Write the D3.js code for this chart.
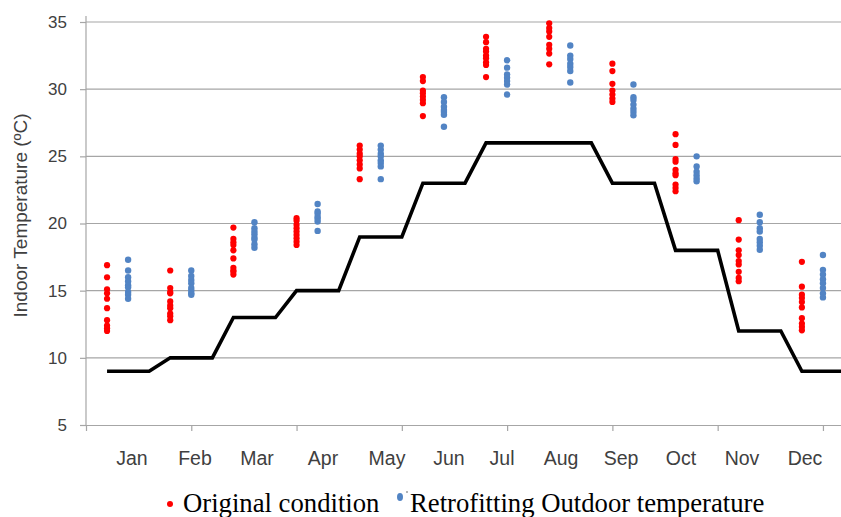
<!DOCTYPE html>
<html>
<head>
<meta charset="utf-8">
<script src="https://cdn.jsdelivr.net/npm/d3@7/dist/d3.min.js"></script>
<style>
  html, body { margin: 0; padding: 0; background: #fff; }
  svg { display: block; }
</style>
</head>
<body>
<svg id="chart" width="841" height="517"></svg>
<script>
// ---- data ----
const months = ["Jan","Feb","Mar","Apr","May","Jun","Jul","Aug","Sep","Oct","Nov","Dec"];
const outdoorTemp = [9, 10, 13, 15, 19, 23, 26, 26, 23, 18, 12, 9];
const originalCondition = [
  [16.9, 16.0, 15.1, 14.8, 14.4, 13.7, 12.8, 12.4, 12.2, 12.0],
  [16.5, 15.2, 14.9, 14.8, 14.2, 13.9, 13.7, 13.3, 13.1, 12.8],
  [19.7, 18.85, 18.6, 18.4, 18.0, 17.4, 16.7, 16.5, 16.4, 16.2],
  [20.4, 20.2, 19.9, 19.65, 19.4, 19.15, 18.9, 18.65, 18.4],
  [25.8, 25.5, 25.2, 25.0, 24.7, 24.4, 24.1, 23.3],
  [30.9, 30.6, 29.9, 29.7, 29.45, 29.2, 28.95, 28.0],
  [33.9, 33.5, 33.0, 32.8, 32.5, 32.3, 32.0, 31.8, 30.9],
  [34.9, 34.55, 34.3, 33.9, 33.3, 33.0, 32.65, 31.85],
  [31.9, 31.35, 30.4, 29.9, 29.6, 29.3, 29.05],
  [26.65, 25.85, 24.8, 24.6, 24.0, 23.75, 23.6, 22.9, 22.65, 22.4],
  [20.25, 18.8, 18.0, 17.65, 17.2, 16.95, 16.4, 15.95, 15.7],
  [17.15, 15.3, 14.7, 14.45, 14.15, 13.75, 12.95, 12.55, 12.3, 12.05]
];
const retrofitting = [
  [17.3, 16.5, 16.0, 15.7, 15.4, 15.25, 14.9, 14.7, 14.4],
  [16.5, 16.1, 15.8, 15.55, 15.2, 15.0, 14.8, 14.7],
  [20.1, 19.65, 19.4, 19.2, 18.95, 18.8, 18.45, 18.2],
  [21.45, 20.9, 20.75, 20.5, 20.35, 20.15, 19.45],
  [25.8, 25.5, 25.2, 25.0, 24.7, 24.5, 24.25, 23.3],
  [29.4, 29.05, 28.7, 28.45, 28.3, 28.1, 27.2],
  [32.15, 31.6, 31.1, 30.85, 30.6, 30.35, 29.6],
  [33.25, 32.5, 32.25, 31.9, 31.65, 31.35, 30.5],
  [30.35, 29.4, 29.2, 28.85, 28.55, 28.3, 28.05],
  [25.0, 24.25, 23.85, 23.6, 23.35, 23.15],
  [20.65, 20.1, 19.65, 19.4, 18.85, 18.6, 18.35, 18.05],
  [17.65, 16.55, 16.2, 15.85, 15.55, 15.2, 14.8, 14.5]
];
const yTicks = [5, 10, 15, 20, 25, 30, 35];
const xTicks = [0, 5, 10, 15, 20, 25, 30, 35];
const legendLabels = ["Original condition", "Retrofitting Outdoor temperature"];

// ---- scales ----
const svg = d3.select("#chart");
const x = d3.scaleLinear().domain([0, 36]).range([86, 844]);
const y = d3.scaleLinear().domain([5, 35]).range([425, 22]);
const monthX = d3.scaleOrdinal().domain(months)
  .range([132, 195, 257, 323, 387, 449, 502, 561, 621, 681, 742, 805]);

const gridColor = "#a6a6a6";
const textColor = "#404040";

// gridlines
svg.append("g").selectAll("line").data(yTicks.filter(d => d > 5)).join("line")
  .attr("x1", x(0)).attr("x2", 841)
  .attr("y1", d => y(d)).attr("y2", d => y(d))
  .attr("stroke", gridColor).attr("stroke-width", 1.2);

// y axis
const yAxis = svg.append("g").attr("transform", `translate(${x(0)},0)`)
  .call(d3.axisLeft(y).tickValues(yTicks).tickSize(6).tickSizeOuter(0).tickPadding(13));
yAxis.select(".domain").remove();
yAxis.selectAll(".tick line").attr("stroke", gridColor).attr("stroke-width", 1.2);
yAxis.selectAll(".tick text").attr("fill", textColor)
  .style("font-family", "'Liberation Sans', Arial, sans-serif").style("font-size", "17px");
svg.append("line").attr("x1", x(0)).attr("x2", x(0))
  .attr("y1", y(35.45)).attr("y2", y(5))
  .attr("stroke", gridColor).attr("stroke-width", 1.2);

// x axis
const xAxis = svg.append("g").attr("transform", `translate(0,${y(5)})`)
  .call(d3.axisBottom(x).tickValues(xTicks).tickSize(6).tickSizeOuter(0).tickFormat(""));
xAxis.select(".domain").attr("stroke", gridColor).attr("stroke-width", 1.2);
xAxis.selectAll(".tick line").attr("stroke", gridColor).attr("stroke-width", 1.2);

// month labels
svg.append("g").selectAll("text").data(months).join("text")
  .attr("x", d => monthX(d)).attr("y", 465)
  .attr("text-anchor", "middle").attr("fill", textColor)
  .style("font-family", "'Liberation Sans', Arial, sans-serif").style("font-size", "19.5px")
  .text(d => d);

// y title
svg.append("text")
  .attr("transform", `translate(27,${y(20.6)}) rotate(-90)`)
  .attr("text-anchor", "middle").attr("fill", textColor)
  .style("font-family", "'Liberation Sans', Arial, sans-serif").style("font-size", "19px")
  .text("Indoor Temperature (ºC)");

// outdoor step line
const linePts = outdoorTemp.flatMap((v, i) => [[3 * i + 1, v], [3 * i + 3, v]]);
svg.append("path").datum(linePts)
  .attr("d", d3.line().x(d => x(d[0])).y(d => y(d[1])))
  .attr("fill", "none").attr("stroke", "#000").attr("stroke-width", 3.6)
  .attr("stroke-linejoin", "miter");

// dots
const redPts = originalCondition.flatMap((arr, i) => arr.map(v => [3 * i + 1, v]));
const bluePts = retrofitting.flatMap((arr, i) => arr.map(v => [3 * i + 2, v]));
svg.append("g").selectAll("circle").data(redPts).join("circle")
  .attr("cx", d => x(d[0])).attr("cy", d => y(d[1])).attr("r", 3.1)
  .attr("fill", "#ff0000");
svg.append("g").selectAll("circle").data(bluePts).join("circle")
  .attr("cx", d => x(d[0])).attr("cy", d => y(d[1])).attr("r", 3.2)
  .attr("fill", "#5284c4");

// legend
const lg = svg.append("g");
lg.append("circle").attr("cx", 170).attr("cy", 504).attr("r", 3).attr("fill", "#ff0000");
lg.append("text").attr("x", 183).attr("y", 512)
  .style("font-family", "'Liberation Serif', 'Times New Roman', serif").style("font-size", "26.7px")
  .attr("fill", "#000").text(legendLabels[0]);
lg.append("ellipse").attr("cx", 400).attr("cy", 497).attr("rx", 3).attr("ry", 4).attr("fill", "#5284c4");
lg.append("circle").attr("cx", 407).attr("cy", 492).attr("r", 0.8).attr("fill", "#555");
lg.append("text").attr("x", 410).attr("y", 512)
  .style("font-family", "'Liberation Serif', 'Times New Roman', serif").style("font-size", "26.7px")
  .attr("fill", "#000").text(legendLabels[1]);
</script>
</body>
</html>
